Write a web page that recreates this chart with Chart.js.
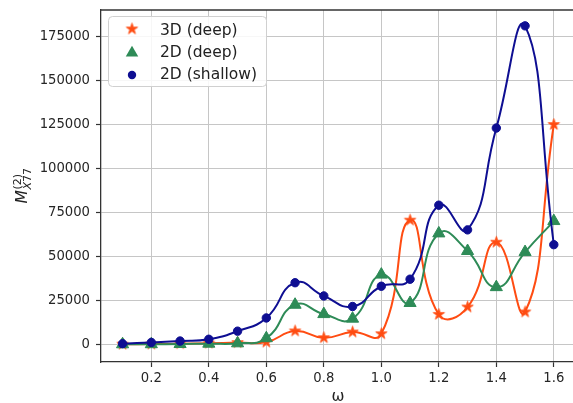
<!DOCTYPE html>
<html><head><meta charset="utf-8">
<script src="https://cdn.jsdelivr.net/npm/chart.js@4.4.0/dist/chart.umd.min.js"></script>
<style>html,body{margin:0;padding:0;background:#fff;overflow:hidden}#wrap{width:573px;height:403px;position:relative}</style>
</head><body><div id="wrap"><canvas id="c" width="573" height="403"></canvas></div>
<script>
const omega = [0.1,0.2,0.3,0.4,0.5,0.6,0.7,0.8,0.9,1.0,1.1,1.2,1.3,1.4,1.5,1.6];
const xTicks = [0.2,0.4,0.6,0.8,1.0,1.2,1.4,1.6];
const yTicks = [0,25000,50000,75000,100000,125000,150000,175000];
const deep3D = [100,200,400,700,1000,1300,7600,3800,7000,6000,70500,17000,21200,58000,18400,124800];
const deep2D = [50,100,200,400,600,3500,22500,17200,14600,39600,23500,63000,53000,32500,52400,70000];
const shallow2D = [400,1100,1900,2900,7500,15000,35000,27500,21500,33000,37000,79000,65000,122800,180800,56600];
const seriesLabels = ['3D (deep)','2D (deep)','2D (shallow)'];
const colors = ['#ff4c12','#2e8b57','#0e0e92'];

function makeStar(color, R){
  const s = Math.ceil(R*2+3), c = document.createElement('canvas');
  c.width = s; c.height = s;
  const g = c.getContext('2d'), cx = s/2, cy = s/2, r = R*0.382;
  g.beginPath();
  for(let i=0;i<10;i++){
    const a = -Math.PI/2 + i*Math.PI/5, rr = i%2===0?R:r;
    const px = cx + rr*Math.cos(a), py = cy + rr*Math.sin(a);
    i===0?g.moveTo(px,py):g.lineTo(px,py);
  }
  g.closePath(); g.fillStyle=color; g.fill(); g.strokeStyle=color; g.lineWidth=0.8; g.stroke();
  return c;
}
const star = makeStar(colors[0], 6);

function pts(arr){ return omega.map((x,i)=>({x:x,y:arr[i]})); }

const frame = {
  id:'frame',
  afterDraw(chart){
    const ctx = chart.ctx, a = chart.chartArea;
    ctx.save();
    ctx.strokeStyle='#333'; ctx.lineWidth=1.3;
    ctx.beginPath(); ctx.moveTo(a.left, a.top); ctx.lineTo(a.right, a.top); ctx.stroke();
    // legend
    const bx=108.5, by=16.5, bw=158, bh=70, rad=4;
    ctx.beginPath();
    ctx.moveTo(bx+rad,by); ctx.lineTo(bx+bw-rad,by); ctx.quadraticCurveTo(bx+bw,by,bx+bw,by+rad);
    ctx.lineTo(bx+bw,by+bh-rad); ctx.quadraticCurveTo(bx+bw,by+bh,bx+bw-rad,by+bh);
    ctx.lineTo(bx+rad,by+bh); ctx.quadraticCurveTo(bx,by+bh,bx,by+bh-rad);
    ctx.lineTo(bx,by+rad); ctx.quadraticCurveTo(bx,by,bx+rad,by); ctx.closePath();
    ctx.fillStyle='rgba(255,255,255,0.85)'; ctx.fill();
    ctx.strokeStyle='#d0d0d0'; ctx.lineWidth=1; ctx.stroke();
    const rows=[30.5,52.5,74.5], mx=132;
    ctx.drawImage(star, mx-star.width/2, rows[0]-1.5-star.height/2);
    ctx.fillStyle=colors[1]; ctx.strokeStyle=colors[1];
    const tr=7.2, ty=rows[1]+0.5;
    ctx.beginPath(); ctx.moveTo(mx, ty-tr); ctx.lineTo(mx+tr*0.866, ty+tr/2); ctx.lineTo(mx-tr*0.866, ty+tr/2); ctx.closePath(); ctx.fill();
    ctx.fillStyle=colors[2];
    ctx.beginPath(); ctx.arc(mx, rows[2]+0.5, 4.2, 0, Math.PI*2); ctx.fill();
    ctx.fillStyle='#222'; ctx.font='15.5px "DejaVu Sans"'; ctx.textBaseline='middle'; ctx.textAlign='left';
    seriesLabels.forEach((t,i)=>ctx.fillText(t, 160, rows[i]+0.5));
    // x title
    ctx.textAlign='center'; ctx.textBaseline='alphabetic';
    ctx.fillText('ω', 338, 401);
    // y title
    ctx.translate(27, 186); ctx.rotate(-Math.PI/2);
    ctx.font='italic 15.5px "DejaVu Sans"';
    const wM = ctx.measureText('M').width;
    ctx.font='11px "DejaVu Sans"'; const wSup = ctx.measureText('(2)').width;
    ctx.font='italic 11px "DejaVu Sans"'; const wX = ctx.measureText('X').width;
    ctx.font='11px "DejaVu Sans"'; const w77 = ctx.measureText('77').width;
    const total = wM + Math.max(wSup, wX+w77);
    let x0 = -total/2;
    ctx.textAlign='left';
    ctx.font='italic 15.5px "DejaVu Sans"'; ctx.fillText('M', x0, 0);
    const xs = x0 + wM + 0.5;
    ctx.font='11px "DejaVu Sans"'; ctx.fillText('(2)', xs, -6.5);
    ctx.font='italic 11px "DejaVu Sans"'; ctx.fillText('X', xs, 4);
    ctx.font='11px "DejaVu Sans"'; ctx.fillText('77', xs+wX, 4);
    ctx.restore();
  }
};

const tickFont = {family:'DejaVu Sans', size:13.2};
function noPad(s){ s.paddingLeft=0; s.paddingRight=0; s.paddingTop=0; s.paddingBottom=0; }
new Chart(document.getElementById('c'), {
  type:'line',
  data:{datasets:[
    {label:seriesLabels[0], data:pts(deep3D), borderColor:colors[0], backgroundColor:colors[0], borderWidth:2, tension:0.5, pointStyle:star, pointRadius:6, fill:false, order:3},
    {label:seriesLabels[1], data:pts(deep2D), borderColor:colors[1], backgroundColor:colors[1], borderWidth:2, tension:0.5, pointStyle:'triangle', pointRadius:7, pointBorderWidth:1, fill:false, order:2},
    {label:seriesLabels[2], data:pts(shallow2D), borderColor:colors[2], backgroundColor:colors[2], borderWidth:2, tension:0.5, pointStyle:'circle', pointRadius:4.2, pointBorderWidth:1, fill:false, order:1}
  ]},
  options:{
    responsive:false, animation:false,
    layout:{autoPadding:false, padding:{top:10,left:0,right:0,bottom:0}},
    plugins:{legend:{display:false}, tooltip:{enabled:false}},
    scales:{
      x:{type:'linear', min:0.025, max:1.6667,
        afterBuildTicks:s=>{s.ticks = xTicks.map(v=>({value:v}));},
        afterFit:s=>{s.height=41; noPad(s);},
        ticks:{callback:v=>Number(v).toFixed(1), font:tickFont, color:'#262626', padding:3.5, maxRotation:0, autoSkip:false},
        grid:{color:'#c6c6c6', lineWidth:1, tickLength:5, tickColor:'#333', tickWidth:1.2},
        border:{color:'#333', width:1.3}},
      y:{type:'linear', min:-10000, max:189800,
        afterBuildTicks:s=>{s.ticks = yTicks.map(v=>({value:v}));},
        afterFit:s=>{s.width=101; noPad(s);},
        ticks:{callback:v=>String(v), font:tickFont, color:'#262626', padding:6, autoSkip:false},
        grid:{color:'#c6c6c6', lineWidth:1, tickLength:5, tickColor:'#333', tickWidth:1.2},
        border:{color:'#333', width:1.3}}
    }
  },
  plugins:[frame]
});
</script></body></html>
